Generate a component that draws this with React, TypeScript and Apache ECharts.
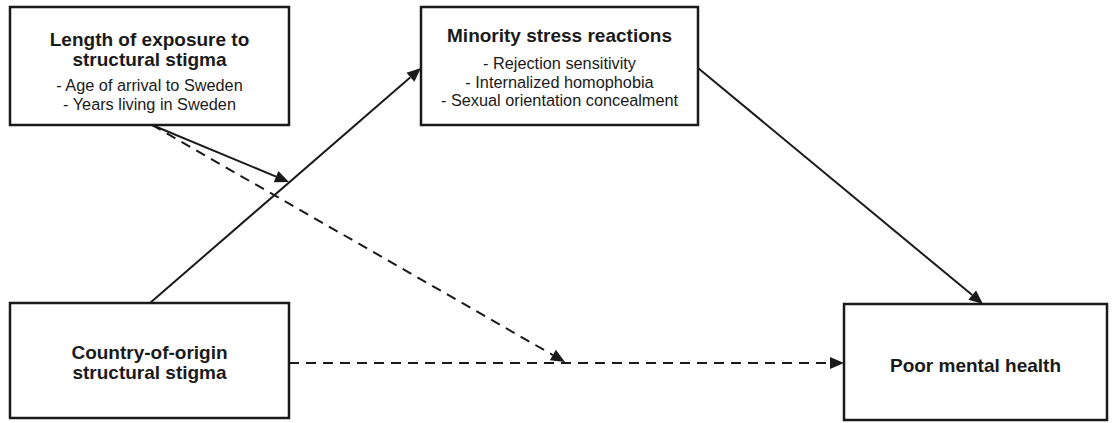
import React, { useEffect, useRef } from "react";
import * as echarts from "echarts";

// Node texts
const nodeIds = ["exposure", "minority", "origin", "health"];
const nodeTitles = [
  ["Length of exposure to", "structural stigma"],
  ["Minority stress reactions"],
  ["Country-of-origin", "structural stigma"],
  ["Poor mental health"],
];
const nodeItems = [
  ["- Age of arrival to Sweden", "- Years living in Sweden"],
  ["- Rejection sensitivity", "- Internalized homophobia", "- Sexual orientation concealment"],
  [],
  [],
];
// Edges: from, to, dashed
const edgeFrom = ["origin", "exposure", "exposure", "origin", "minority"];
const edgeTo = ["minority", "moderation", "moderationDashed", "health", "health"];
const edgeDashed = [false, false, true, true, false];

// Layout (positions in px)
const boxes: Record<string, { x: number; y: number; w: number; h: number; titleY: number; itemY: number }> = {
  exposure: { x: 10, y: 7, w: 279, h: 118, titleY: 39, itemY: 85 },
  minority: { x: 421, y: 7, w: 277, h: 118, titleY: 35, itemY: 63 },
  origin: { x: 10, y: 303, w: 279, h: 115, titleY: 352, itemY: 0 },
  health: { x: 844, y: 304, w: 263, h: 116, titleY: 365, itemY: 0 },
};
const edgeGeom: [number, number, number, number][] = [
  [150, 303, 421, 68],
  [152, 125, 289, 182],
  [152, 125, 565, 362],
  [289, 363, 844, 363],
  [698, 68, 983, 304],
];

const INK = "#1a1a1a";

function arrowHead(x1: number, y1: number, x2: number, y2: number, len = 14, half = 6) {
  const dx = x2 - x1, dy = y2 - y1;
  const L = Math.sqrt(dx * dx + dy * dy);
  const ux = dx / L, uy = dy / L;
  const bx = x2 - ux * len, by = y2 - uy * len;
  return [
    [x2, y2],
    [bx - uy * half, by + ux * half],
    [bx + uy * half, by - ux * half],
  ];
}

export default function App() {
  const ref = useRef<HTMLDivElement>(null);
  useEffect(() => {
    if (!ref.current) return;
    const chart = echarts.init(ref.current, undefined, { renderer: "svg" });
    const elements: any[] = [];
    nodeIds.forEach((id, i) => {
      const b = boxes[id];
      elements.push({
        type: "rect",
        shape: { x: b.x, y: b.y, width: b.w, height: b.h },
        style: { fill: "#fff", stroke: INK, lineWidth: 2.5 },
      });
      const cx = b.x + b.w / 2;
      nodeTitles[i].forEach((t, k) => {
        elements.push({
          type: "text",
          style: {
            text: t, x: cx, y: b.titleY + k * 20,
            font: "bold 19px 'Liberation Sans', Arial, sans-serif",
            fill: INK, textAlign: "center", textVerticalAlign: "middle",
          },
        });
      });
      nodeItems[i].forEach((t, k) => {
        elements.push({
          type: "text",
          style: {
            text: t, x: cx, y: b.itemY + k * 18.7,
            font: "16.3px 'Liberation Sans', Arial, sans-serif",
            fill: INK, textAlign: "center", textVerticalAlign: "middle",
          },
        });
      });
    });
    edgeFrom.forEach((_, i) => {
      const [x1, y1, x2, y2] = edgeGeom[i];
      const ah = arrowHead(x1, y1, x2, y2);
      const bx = (ah[1][0] + ah[2][0]) / 2, by = (ah[1][1] + ah[2][1]) / 2;
      elements.push({
        type: "line",
        shape: { x1, y1, x2: bx, y2: by },
        style: { stroke: INK, lineWidth: 2, lineDash: edgeDashed[i] ? [10, 7] : null },
      });
      elements.push({
        type: "polygon",
        shape: { points: ah },
        style: { fill: INK, stroke: null },
      });
    });
    chart.setOption({ animation: false, backgroundColor: "#fff", graphic: { elements } });
    return () => chart.dispose();
  }, []);
  return (
    <div
      ref={ref}
      style={{ position: "fixed", left: 0, top: 0, width: 1114, height: 423 }}
    />
  );
}
